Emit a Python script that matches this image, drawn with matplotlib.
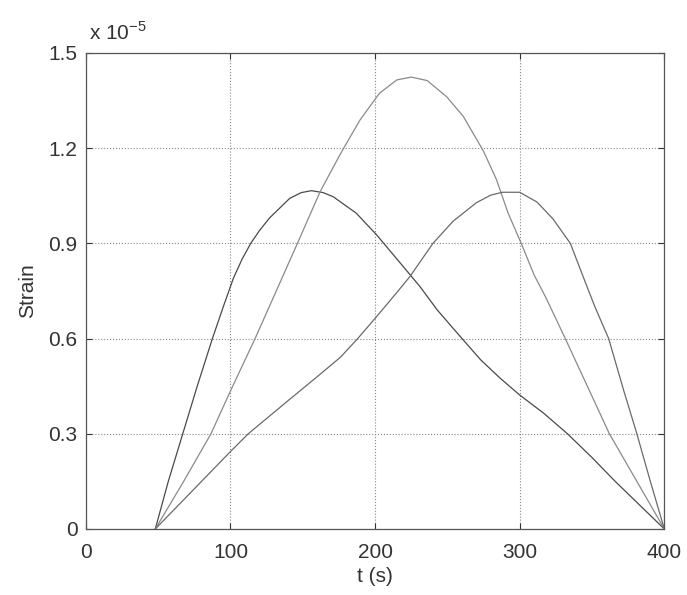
import matplotlib
matplotlib.use("Agg")
import matplotlib.pyplot as plt

plt.rcParams["font.family"] = ["Liberation Sans", "DejaVu Sans"]

# tiempo (s) y deformacion (x 1e-5) leidos de la figura
# curva A: pico a la izquierda
t_a = [48, 57, 67, 77, 87.5, 95, 102, 108, 114, 120, 127, 141, 149, 156, 164, 171, 187, 201,
       215, 231, 243, 258, 273, 286.5, 300, 316.5, 333, 350, 366, 383, 400]
s_a = [0, 0.15, 0.30, 0.45, 0.60, 0.70, 0.79, 0.85, 0.90, 0.94, 0.98, 1.042, 1.060, 1.066,
       1.060, 1.047, 0.995, 0.927, 0.851, 0.764, 0.69, 0.611, 0.533, 0.475, 0.422, 0.365,
       0.30, 0.225, 0.15, 0.075, 0]

# curva B: pico central
t_b = [48, 67, 86.5, 100, 117, 130, 145.8, 154, 162, 170, 177, 189.6, 203, 215, 225,
       236, 249.5, 261, 275, 284, 292, 301.5, 310, 318, 331.5, 349, 362, 381, 400]
s_b = [0, 0.145, 0.30, 0.435, 0.60, 0.733, 0.895, 0.98, 1.063, 1.131, 1.19, 1.289, 1.373,
       1.415, 1.424, 1.413, 1.362, 1.30, 1.19, 1.10, 0.995, 0.895, 0.80, 0.73, 0.60,
       0.428, 0.30, 0.15, 0]

# curva C: pico a la derecha
t_c = [48, 80, 100, 112.3, 140, 160, 176, 188, 201, 215, 224, 240, 254, 270, 280, 288,
       300, 312, 323, 335, 346.5, 352, 361.5, 371.8, 381, 390, 400]
s_c = [0, 0.15, 0.244, 0.30, 0.405, 0.48, 0.541, 0.60, 0.669, 0.745, 0.795, 0.90, 0.97,
       1.028, 1.052, 1.061, 1.061, 1.03, 0.977, 0.90, 0.764, 0.70, 0.60, 0.438, 0.30,
       0.155, 0]

x_ticks = [0, 100, 200, 300, 400]
y_ticks = [0, 0.3, 0.6, 0.9, 1.2, 1.5]
y_labels = ["0", "0.3", "0.6", "0.9", "1.2", "1.5"]

fig = plt.figure(figsize=(6.87, 5.95), dpi=100)
ax = fig.add_axes([0.125, 0.111, 0.842, 0.800])

ax.plot(t_a, s_a, color="#4a4a4a", linewidth=0.9)
ax.plot(t_b, s_b, color="#8a8a8a", linewidth=0.9)
ax.plot(t_c, s_c, color="#6a6a6a", linewidth=0.9)

ax.set_xlim(0, 400)
ax.set_ylim(0, 1.5)
ax.set_xticks(x_ticks)
ax.set_yticks(y_ticks)
ax.set_xticklabels([str(v) for v in x_ticks])
ax.set_yticklabels(y_labels)
ax.grid(True, linestyle=":", color="#888888", linewidth=0.8)
ax.tick_params(direction="in", length=4, labelsize=15, colors="#333333",
               top=True, right=True)
ax.tick_params(axis="x", pad=10)
ax.tick_params(axis="y", pad=6)
for sp in ax.spines.values():
    sp.set_color("#555555")
    sp.set_linewidth(0.9)

ax.set_xlabel("t (s)", fontsize=15, color="#333333", labelpad=4)
ax.set_ylabel("Strain", fontsize=15, color="#333333", labelpad=8)
ax.text(0.005, 1.02, r"x 10$^{\mathregular{-5}}$", transform=ax.transAxes,
        fontsize=15, color="#333333", ha="left", va="bottom")

fig.savefig("out.png", dpi=100)
